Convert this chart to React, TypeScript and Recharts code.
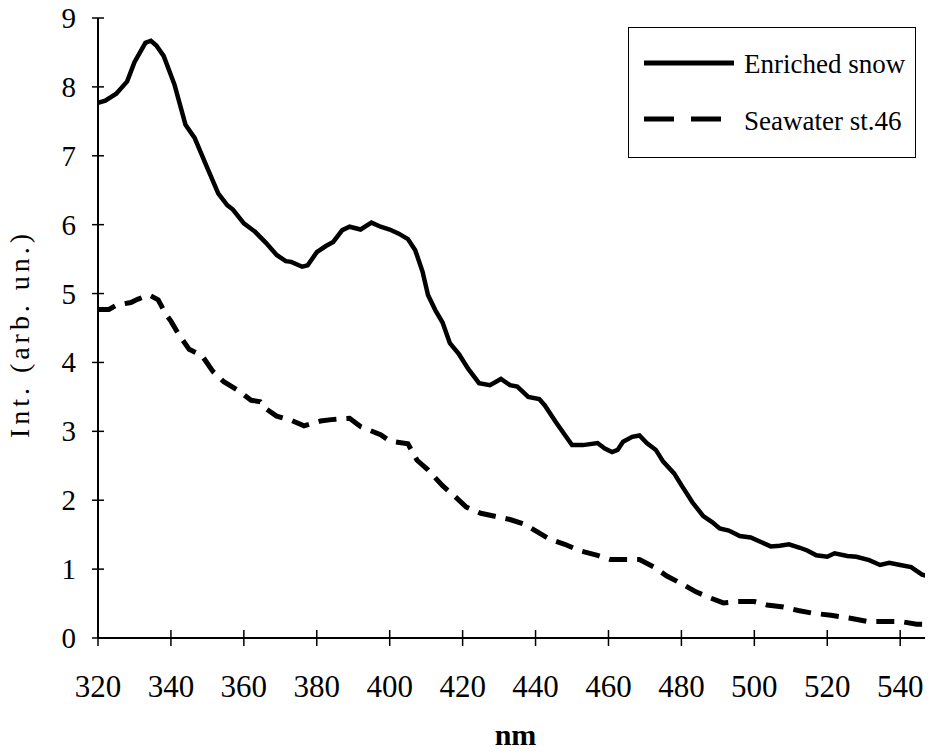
import React from 'react'
import { LineChart, Line, XAxis, YAxis, Legend } from 'recharts'

// wavelength (nm) and intensity
const snowNm = [
  320, 322, 325, 328, 330, 333, 334.5, 336, 338, 341, 344, 346.5, 350, 353, 355.5, 357, 360, 363, 366, 369,
  371.5, 373, 376, 377.5, 380, 382.5, 384.5, 387, 389, 392, 395, 397.5, 400, 402.5, 405, 407, 409, 410.5,
  412.5, 414.5, 416.5, 419, 421.5, 424.5, 427.5, 430.5, 433, 435, 438, 441, 442.5, 445.5, 448, 450, 453, 457,
  459, 461, 462.5, 464, 466.5, 468.5, 470.5, 473, 475, 478, 480, 483, 486, 488.5, 490.5, 493, 496, 499,
  501.5, 504.5, 507, 509.5, 512.5, 514.5, 517, 520, 522, 525.5, 528, 531.5, 534.5, 537, 540, 543, 546, 549,
]
const snowInt = [
  7.77, 7.8, 7.9, 8.08, 8.36, 8.64, 8.67, 8.6, 8.45, 8.03, 7.45, 7.26, 6.82, 6.45, 6.28, 6.22, 6.02, 5.9, 5.74, 5.56,
  5.47, 5.46, 5.39, 5.41, 5.6, 5.69, 5.75, 5.92, 5.97, 5.93, 6.03, 5.97, 5.93, 5.87, 5.79, 5.63, 5.32, 4.98,
  4.76, 4.58, 4.28, 4.12, 3.91, 3.7, 3.67, 3.76, 3.67, 3.65, 3.5, 3.47, 3.38, 3.14, 2.95, 2.8, 2.8, 2.83,
  2.75, 2.7, 2.73, 2.85, 2.92, 2.94, 2.83, 2.73, 2.56, 2.39, 2.22, 1.97, 1.77, 1.68, 1.59, 1.56, 1.48, 1.46,
  1.4, 1.33, 1.34, 1.36, 1.31, 1.27, 1.2, 1.18, 1.23, 1.19, 1.18, 1.13, 1.06, 1.09, 1.06, 1.03, 0.92, 0.88,
]

const seaNm = [
  320, 323, 325, 329, 331, 334, 336.5, 338.5, 340, 342, 345, 348.5, 351.5, 354.5, 358.5, 362, 364.5, 366, 369,
  373, 376.5, 381, 384, 389, 392, 397.5, 400, 405, 407.5, 410.5, 414.5, 418, 421, 425, 428.5, 433, 437, 440.5,
  444, 448, 452, 457, 460.5, 465, 468.5, 472.5, 476, 480, 484, 488, 491.5, 495.5, 500, 503.5, 508, 512, 516,
  521, 526, 531, 535.5, 540, 544.5, 549,
]
const seaInt = [
  4.77, 4.77, 4.83, 4.87, 4.92, 4.98, 4.91, 4.71, 4.6, 4.42, 4.19, 4.1, 3.87, 3.72, 3.59, 3.45, 3.43, 3.33, 3.22,
  3.16, 3.08, 3.15, 3.17, 3.19, 3.07, 2.95, 2.86, 2.82, 2.58, 2.44, 2.21, 2.05, 1.9, 1.81, 1.77, 1.72, 1.65, 1.54,
  1.43, 1.36, 1.27, 1.2, 1.14, 1.14, 1.14, 1.03, 0.9, 0.79, 0.67, 0.58, 0.51, 0.53, 0.53, 0.48, 0.45, 0.4, 0.36,
  0.33, 0.29, 0.24, 0.24, 0.24, 0.2, 0.2,
]

const xTicks = [320, 340, 360, 380, 400, 420, 440, 460, 480, 500, 520, 540]
const yTicks = [0, 1, 2, 3, 4, 5, 6, 7, 8, 9]

const snowData = snowNm.map((nm, i) => ({ nm, value: snowInt[i] }))
const seaData = seaNm.map((nm, i) => ({ nm, value: seaInt[i] }))

const FONT = '"Liberation Serif", "Times New Roman", serif'

function XTick({ x, y, payload }: any) {
  return (
    <g>
      <line x1={x} x2={x} y1={y - 8} y2={y + 8} stroke="#000" strokeWidth={1.5} />
      <text x={x} y={y + 59} textAnchor="middle" fontSize={31} fontFamily={FONT} fill="#000">
        {payload.value}
      </text>
    </g>
  )
}

function YTick({ x, y, payload }: any) {
  return (
    <g>
      <line x1={x - 6} x2={x + 6} y1={y} y2={y} stroke="#000" strokeWidth={1.5} />
      <text x={x - 22} y={y + 10} textAnchor="end" fontSize={29} fontFamily={FONT} fill="#000">
        {payload.value}
      </text>
    </g>
  )
}

function LegendBox() {
  return (
    <div
      style={{
        width: 286,
        height: 129,
        border: '1.5px solid #000',
        background: '#fff',
        position: 'relative',
      }}
    >
      <svg width={286} height={129} style={{ position: 'absolute', left: 0, top: 0 }}>
        <line x1={15} x2={105} y1={35} y2={35} stroke="#000" strokeWidth={5} />
        <text x={115} y={45} fontSize={27} fontFamily={FONT} fill="#000">Enriched snow</text>
        <line x1={15} x2={100} y1={91} y2={91} stroke="#000" strokeWidth={5} strokeDasharray="30 17" />
        <text x={115} y={102} fontSize={27} fontFamily={FONT} fill="#000">Seawater st.46</text>
      </svg>
    </div>
  )
}

export default function App() {
  return (
    <div style={{ width: 933, height: 754, margin: '-8px 0 0 -8px', background: '#fff', position: 'relative' }}>
      <LineChart width={933} height={754} margin={{ top: 18, right: 0, bottom: 0, left: 0 }}>
        <XAxis
          dataKey="nm"
          type="number"
          domain={[320, 549]}
          ticks={xTicks}
          allowDataOverflow
          height={116}
          tickSize={0}
          tickMargin={0}
          tickLine={false}
          tick={<XTick />}
          axisLine={{ stroke: '#000', strokeWidth: 2 }}
          label={(props: any) => {
            const vb = props.viewBox
            return (
              <text
                x={vb.x + vb.width / 2}
                y={745}
                textAnchor="middle"
                fontSize={30}
                fontWeight="bold"
                fontFamily={FONT}
                fill="#000"
              >
                nm
              </text>
            )
          }}
        />
        <YAxis
          type="number"
          domain={[0, 9]}
          ticks={yTicks}
          width={98}
          tickSize={0}
          tickMargin={0}
          tickLine={false}
          tick={<YTick />}
          axisLine={{ stroke: '#000', strokeWidth: 2 }}
          label={() => (
            <text
              x={29}
              y={336}
              transform="rotate(-90, 29, 336)"
              textAnchor="middle"
              fontSize={28}
              textLength={204}
              lengthAdjust="spacing"
              fontFamily={FONT}
              fill="#000"
            >
              Int. (arb. un.)
            </text>
          )}
        />
        <Legend
          layout="vertical"
          align="center"
          verticalAlign="middle"
          wrapperStyle={{ position: 'absolute', left: 628, top: 27, width: 290 }}
          content={() => <LegendBox />}
        />
        <Line
          data={snowData}
          dataKey="value"
          name="Enriched snow"
          type="linear"
          stroke="#000"
          strokeWidth={4.5}
          dot={false}
          isAnimationActive={false}
        />
        <Line
          data={seaData}
          dataKey="value"
          name="Seawater st.46"
          type="linear"
          stroke="#000"
          strokeWidth={5}
          strokeDasharray="18 10"
          dot={false}
          isAnimationActive={false}
        />
      </LineChart>
    </div>
  )
}
